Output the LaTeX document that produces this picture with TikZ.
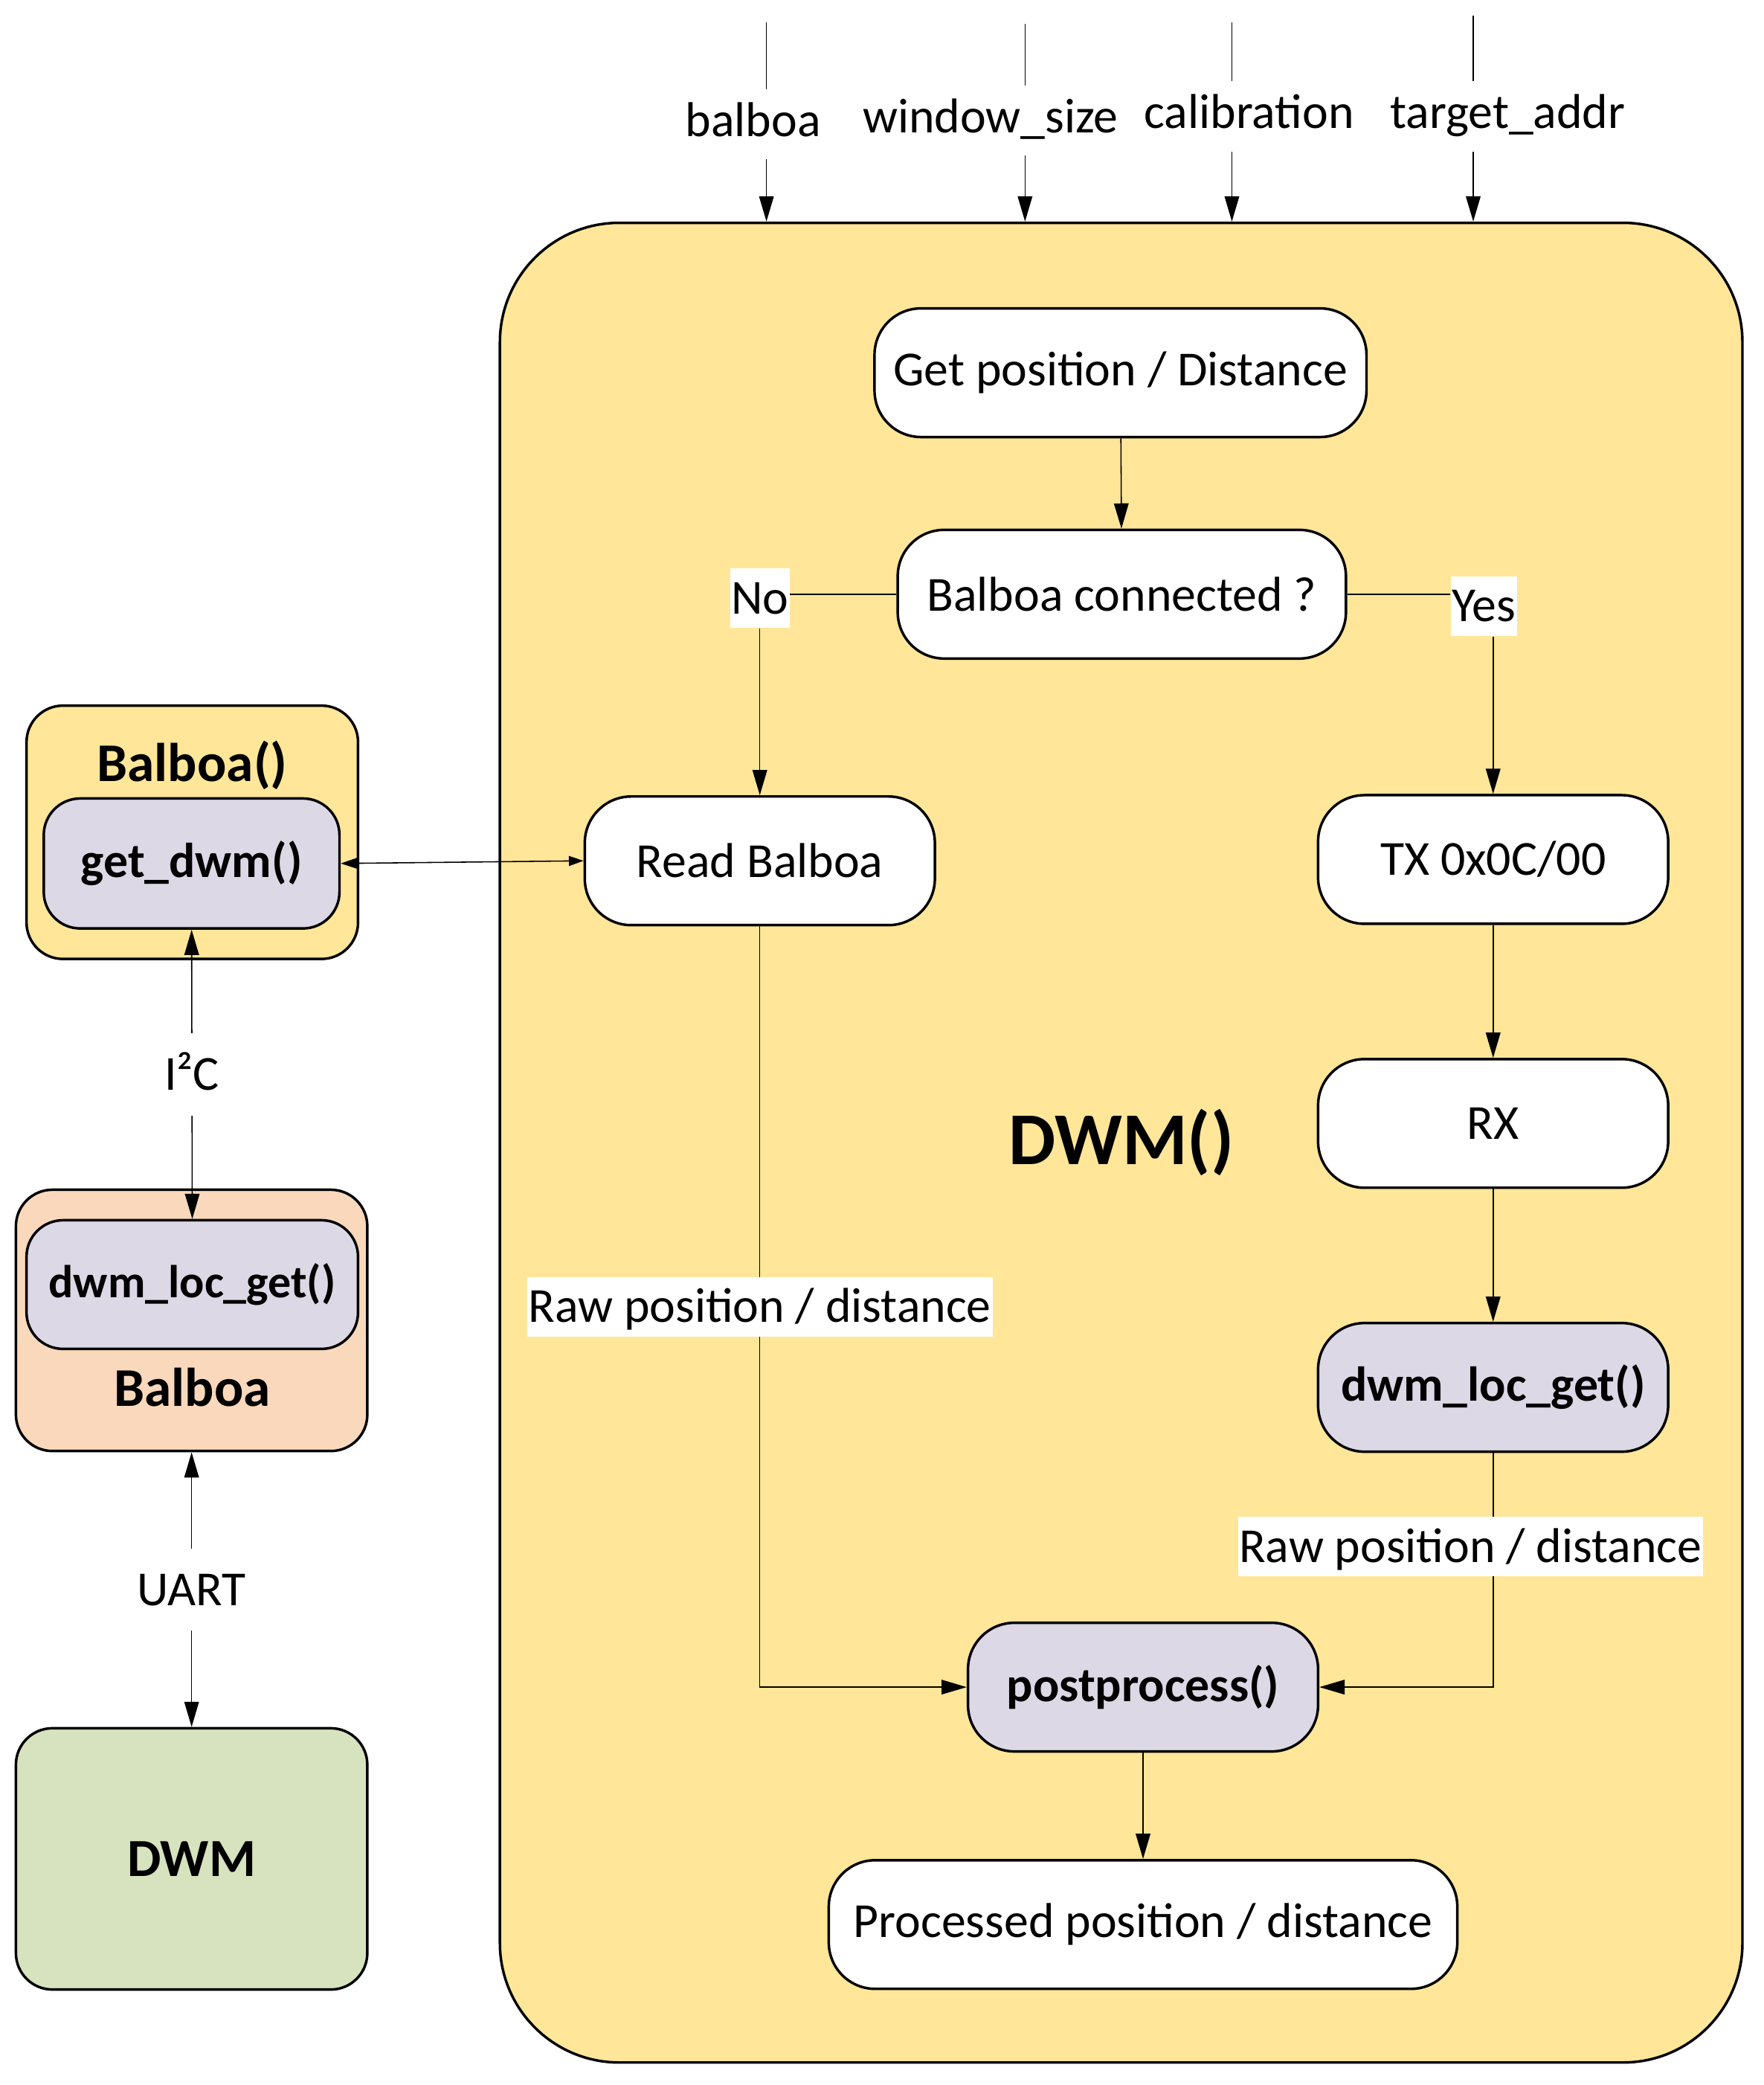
\documentclass[tikz,border=0pt]{standalone}
\usepackage{fontspec}
\setmainfont{Carlito}
\usetikzlibrary{%
	arrows.meta,%
	calc
}
\definecolor{dwm-yellow}{HTML}{FFE699}
\definecolor{func-purple}{HTML}{DDD8E5}
\definecolor{balboa-peach}{HTML}{F9D8BC}
\definecolor{dwm-green}{HTML}{D7E2BE}
\newcommand{\basesize}{\fontsize{21}{25}\selectfont}

\begin{document}
\begin{tikzpicture}[x=0.2mm, y=-0.2mm,
			font=\basesize,
			>={Triangle[length=0.38cm,width=0.22cm]},
			link/.style={line width=0.5pt},
			block/.style={draw, line width=1.1pt, fill=white, rounded corners=0.7cm,
				align=center, inner sep=0pt, minimum height=1.94cm},
			func/.style={block, fill=func-purple, font=\basesize\bfseries},
			side/.style={draw, line width=1.1pt, rounded corners=0.55cm, inner sep=0pt},
			lbl/.style={fill=white, inner xsep=0.5pt, inner ysep=0.8pt,
				text height=18.7pt, text depth=5.3pt},
			inlbl/.style={inner sep=0.15cm, text height=15.8pt, text depth=5.3pt, anchor=base}
		]
			\useasboundingbox (0,0) rectangle (1330,1572);
			
			% Main block
			\node[draw, line width=1.1pt, fill=dwm-yellow, rounded corners=1.8cm,
				minimum width=18.74cm, minimum height=27.74cm,
				font=\fontsize{32}{38}\selectfont\bfseries] (dwmbox) at (845.5,861.5) {DWM()};
			
			% Inputs
			\node[inlbl] (inbalboa) at (568,103) {balboa};
			\node[inlbl] (inwindow) at (747,100) {window\_size};
			\node[inlbl] (incalib) at (942,97) {calibration};
			\node[inlbl] (intarget) at (1137,97) {target\_addr};
			\coordinate (topbalboa) at (578,17);
			\coordinate (topwindow) at (773,18);
			\coordinate (topcalib) at (929,17);
			\coordinate (toptarget) at (1111,12);
			\draw[link] (topbalboa) -- (topbalboa |- inbalboa.north);
			\draw[link] (topwindow) -- (topwindow |- inwindow.north);
			\draw[link] (topcalib) -- (topcalib |- incalib.north);
			\draw[link] (toptarget) -- (toptarget |- intarget.north);
			\draw[link,->] (topbalboa |- inbalboa.south) -- (topbalboa |- dwmbox.north);
			\draw[link,->] (topwindow |- inwindow.south) -- (topwindow |- dwmbox.north);
			\draw[link,->] (topcalib |- incalib.south) -- (topcalib |- dwmbox.north);
			\draw[link,->] (toptarget |- intarget.south) -- (toptarget |- dwmbox.north);
			
			% Steps inside DWM()
			\node[block, minimum width=7.42cm] (getpos) at (845,281) {Get position / Distance};
			\node[block, minimum width=6.76cm] (conn) at (846,448) {Balboa connected ?};
			\node[block, minimum width=5.28cm] (readb) at (573,649) {Read Balboa};
			\node[block, minimum width=5.28cm] (tx) at (1126,648) {TX 0x0C/00};
			\node[block, minimum width=5.28cm] (rx) at (1126,847) {RX};
			\node[func, minimum width=5.28cm] (locget) at (1126,1046) {dwm\_loc\_get()};
			\node[func, minimum width=5.28cm] (post) at (862,1272) {postprocess()};
			\node[block, minimum width=9.48cm] (proc) at (862,1451) {Processed position / distance};
			
			\node[lbl] (no) at (573,451) {No};
			\node[lbl] (yes) at (1119,457) {Yes};
			
			\draw[link,->] (getpos) -- (conn);
			\draw[link] (conn.west) -- (conn.west -| no.east);
			\draw[link,->] (no.south) -- (readb.north);
			\draw[link] (conn.east) -- (conn.east -| yes.west);
			\draw[link,->] (yes.south -| tx) -- (tx.north);
			\draw[link,->] (tx) -- (rx);
			\draw[link,->] (rx) -- (locget);
			\draw[link,->] (readb.south) |- node[lbl, pos=0.25] {Raw position / distance} (post.west);
			\draw[link,->] (locget.south) |- node[lbl, pos=0.2, xshift=-0.34cm] {Raw position / distance} (post.east);
			\draw[link,->] (post) -- (proc);
			
			% Balboa side
			\node[side, fill=dwm-yellow, minimum width=5cm, minimum height=3.82cm] (balboafun) at (145,627.5) {};
			\node[font=\fontsize{23.4}{28}\selectfont\bfseries] at (145,577) {Balboa()};
			\node[side, fill=func-purple, minimum width=4.46cm, minimum height=1.96cm,
				font=\basesize\bfseries] (getdwm) at (144.5,651) {get\_dwm()};
			
			\node[side, fill=balboa-peach, minimum width=5.3cm, minimum height=3.94cm] (balboadev) at (144.5,995.5) {};
			\node[side, fill=func-purple, minimum width=5cm, minimum height=1.94cm,
				font=\fontsize{19.8}{24}\selectfont\bfseries] (locgetl) at (145,968.5) {dwm\_loc\_get()};
			\node[font=\fontsize{23.4}{28}\selectfont\bfseries] at (145,1046) {Balboa};
			
			\node[side, fill=dwm-green, minimum width=5.3cm, minimum height=3.94cm,
				font=\fontsize{23}{28}\selectfont\bfseries] (dwmdev) at (144.5,1401.5) {DWM};
			
			\draw[link,{Triangle[length=0.26cm,width=0.17cm]}-{Triangle[length=0.22cm,width=0.15cm]}] (getdwm.east) -- (readb.west);
			\draw[link,<->] (getdwm.south) -- node[lbl, inner ysep=0.2cm] {I²C} (locgetl.north);
			\draw[link,<->] (balboadev.south) -- node[lbl, inner ysep=0.2cm] {UART} (dwmdev.north);
		\end{tikzpicture}
\end{document}
